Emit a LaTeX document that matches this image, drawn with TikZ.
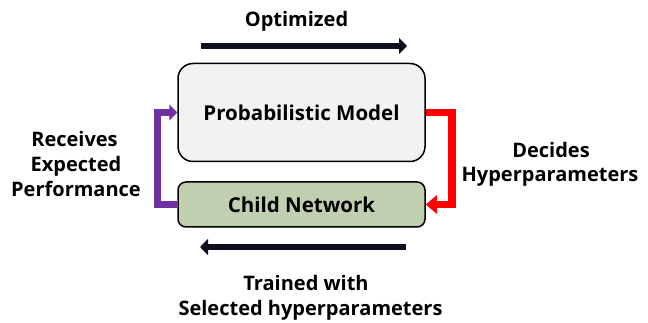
\documentclass[tikz,border=0pt]{standalone}
\usepackage{fontspec}
\setmainfont{Open Sans}
\usetikzlibrary{arrows.meta}
\definecolor{pmfill}{HTML}{F2F2F2}
\definecolor{chfill}{HTML}{BFCFB0}
\definecolor{purp}{HTML}{7030A0}
\definecolor{redc}{HTML}{FF0000}
\definecolor{darkar}{HTML}{0E1020}
\tikzset{
  box/.style={draw=black, line width=1.5pt, minimum width=247pt, inner sep=0pt, font=\fontsize{20.5}{24}\selectfont\bfseries},
  lbl/.style={font=\fontsize{20}{24}\selectfont\bfseries, inner sep=0pt, anchor=base},
  bigarrow/.style={draw=darkar, line width=6.5pt, -{Triangle[length=8pt,width=16pt]}},
  redconn/.style={draw=redc, line width=7.5pt, -{Triangle[length=11pt,width=18pt]}},
  purpconn/.style={draw=purp, line width=7pt, -{Triangle[length=8pt,width=16pt]}},
}
\begin{document}
\begin{tikzpicture}[x=1pt,y=-1pt]
\useasboundingbox (0,0) rectangle (648,323);
\node[box, fill=pmfill, minimum height=98pt, rounded corners=15pt] (pm) at (301.5,112.5) {Probabilistic Model};
\node[box, fill=chfill, minimum height=45pt, rounded corners=8pt] (child) at (301.5,204.5) {Child Network};
\coordinate (t1) at (201,46);
\coordinate (t2) at (407,46);
\coordinate (b1) at (406,247);
\coordinate (b2) at (200,247);
\draw[bigarrow] (t1) -- (t2);
\draw[bigarrow] (b1) -- (b2);
\draw[redconn] (pm.east) -- ++(26,0) |- (child.east);
\draw[purpconn] (child.west) -- ++(-20,0) |- (pm.west);
\node[lbl] (opt) at (296.5,27) {Optimized};
\node[lbl] (tr1) at (306,290) {Trained with};
\node[lbl] (tr2) at (310.5,315) {Selected hyperparameters};
\node[lbl] (re1) at (74.5,147) {Receives};
\node[lbl] (re2) at (76,172) {Expected};
\node[lbl] (re3) at (76,197) {Performance};
\node[lbl] (de1) at (551,158) {Decides};
\node[lbl] (de2) at (550,182) {Hyperparameters};
\end{tikzpicture}
\end{document}
